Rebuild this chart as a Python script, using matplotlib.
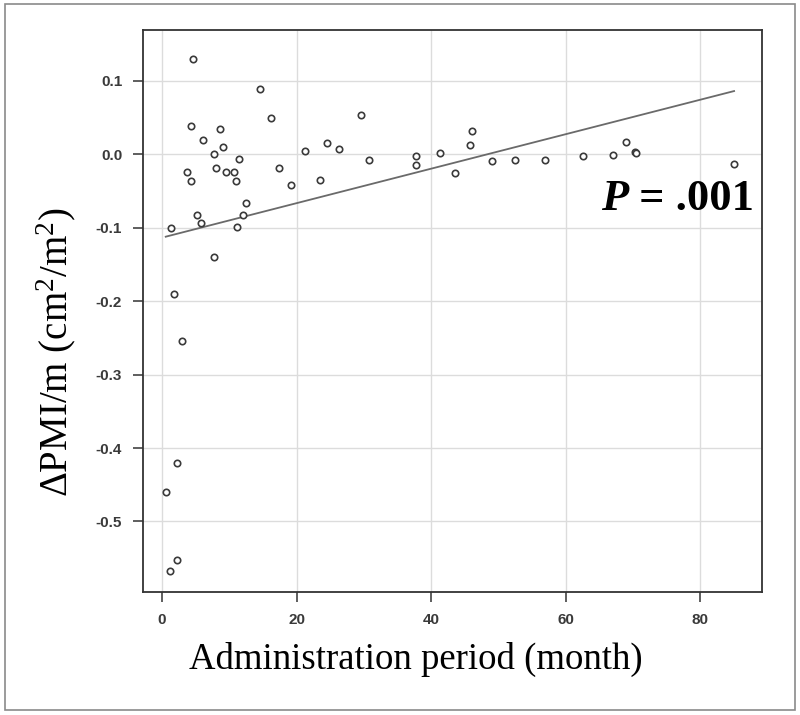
import matplotlib
matplotlib.use('Agg')
import matplotlib.pyplot as plt
from matplotlib.patches import Rectangle

# administration period (month) vs change of PMI per month
months = [0.55, 1.14, 1.29, 1.83, 2.23, 2.23, 2.97, 3.72, 4.31, 4.31, 4.66,
          5.25, 5.8, 6.15, 7.68, 7.73, 8.08, 8.62, 9.02, 9.47, 10.75, 10.95,
          11.1, 11.45, 12.04, 12.44, 14.5, 16.2, 17.35, 19.1, 21.3, 23.45,
          24.6, 26.3, 29.6, 30.8, 37.8, 37.8, 41.4, 43.6, 45.75, 46.1, 49.1,
          52.5, 56.9, 62.55, 67.1, 69.0, 70.3, 70.5, 85.05]
dpmi = [-0.460, -0.567, -0.100, -0.190, -0.420, -0.553, -0.254, -0.0245,
        0.038, -0.036, 0.129, -0.083, -0.093, 0.019, 0.000, -0.140, -0.019,
        0.034, 0.010, -0.0245, -0.0245, -0.036, -0.099, -0.007, -0.083,
        -0.066, 0.089, 0.049, -0.019, -0.042, 0.0045, -0.035, 0.015, 0.0077,
        0.053, -0.0077, -0.0023, -0.0145, 0.0014, -0.026, 0.013, 0.032,
        -0.009, -0.0077, -0.0077, -0.0023, -0.001, 0.017, 0.0027, 0.0014,
        -0.014]

# regression line
intercept = -0.1136
slope = 0.002346

xticks = [0, 20, 40, 60, 80]
yticks = [0.1, 0.0, -0.1, -0.2, -0.3, -0.4, -0.5]

plt.rcParams['mathtext.fontset'] = 'custom'
plt.rcParams['mathtext.rm'] = 'Liberation Serif'
plt.rcParams['mathtext.it'] = 'Liberation Serif:italic'
plt.rcParams['mathtext.bf'] = 'Liberation Serif:bold'

fig = plt.figure(figsize=(8, 7.15), dpi=100)
fig.patches.append(Rectangle((0.006, 0.007), 0.988, 0.988, transform=fig.transFigure,
                             fill=False, edgecolor='#8a8a8a', lw=1.2))
ax = fig.add_axes([0.17875, 0.172, 0.77375, 0.786])

ax.grid(True, color='#dcdcdc', lw=1)
ax.set_axisbelow(True)

xs = [min(months), max(months)]
ax.plot(xs, [intercept + slope * v for v in xs], color='#6a6a6a', lw=1.3)
ax.plot(months, dpmi, 'o', ms=4.6, mfc='white', mec='#3a3a3a', mew=1.2, ls='none')

ax.set_xlim(-2.83, 89.2)
ax.set_ylim(-0.596, 0.169)
ax.set_xticks(xticks)
ax.set_yticks(yticks)
ax.set_xticklabels([str(t) for t in xticks])
ax.set_yticklabels(['%.1f' % t for t in yticks])

for s in ax.spines.values():
    s.set_color('#333333')
    s.set_linewidth(1.3)
ax.tick_params(length=7, width=1.1, color='#333333', labelcolor='#3a3a3a',
               labelsize=11, pad=8)
for lab in ax.get_xticklabels() + ax.get_yticklabels():
    lab.set_family('Liberation Sans')
    lab.set_fontweight('bold')

fig.text(189 / 800, 1 - 669 / 715, 'Administration period (month)',
         family='Liberation Serif', fontsize=26.5, ha='left', va='baseline')
fig.text(67 / 800, 1 - 497 / 715, r'ΔPMI/m (cm$^{2}$/m$^{2}$)',
         family='Liberation Serif', fontsize=28, ha='left', va='baseline',
         rotation=90, rotation_mode='anchor')

t1 = fig.text(601 / 800, 1 - 210 / 715, 'P', family='Liberation Serif',
              fontsize=32, fontstyle='italic', fontweight='bold',
              ha='left', va='baseline')
ax.annotate(' = .001', xy=(1, 0), xycoords=t1, family='Liberation Serif',
            fontsize=32, fontweight='bold', ha='left', va='bottom')

fig.savefig('out.png', dpi=100)
